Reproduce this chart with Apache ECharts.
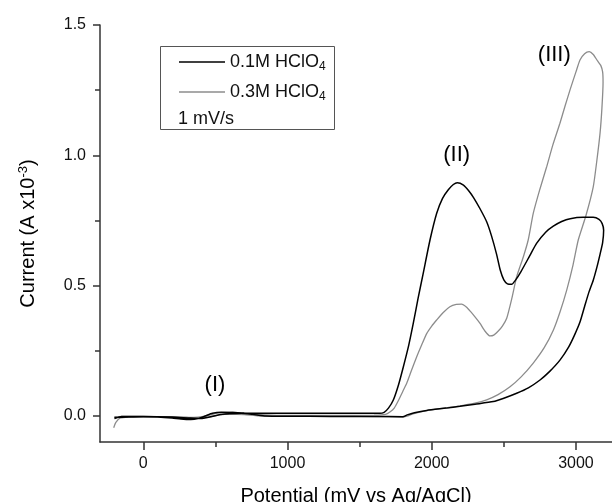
<!DOCTYPE html>
<html>
<head>
<meta charset="utf-8">
<script src="https://cdn.jsdelivr.net/npm/echarts@6/dist/echarts.min.js"></script>
<style>
html, body { margin: 0; padding: 0; background: #fff; }
#chart { width: 612px; height: 502px; }
</style>
</head>
<body>
<div id="chart"></div>
<script>
// CV curves, [potential mV, current A x10^-3]
var seriesNames = ['0.1M HClO4', '0.3M HClO4'];

var cv01 = [
	[-200,-0.006],[-100,-0.004],[0,-0.003],[100,-0.004],[200,-0.008],[260,-0.012],[330,-0.014],[380,-0.01],[430,0.0],[480,0.01],
	[540,0.014],[620,0.013],[700,0.011],[900,0.01],[1200,0.01],[1500,0.01],[1640,0.01],[1670,0.014],[1700,0.03],[1733,0.06],
	[1770,0.12],[1803,0.188],[1840,0.27],[1872,0.355],[1905,0.45],[1941,0.547],[1988,0.675],[2034,0.777],[2075,0.835],[2115,0.868],
	[2150,0.888],[2177,0.895],[2220,0.886],[2255,0.865],[2290,0.838],[2335,0.795],[2381,0.745],[2415,0.69],[2450,0.62],[2475,0.56],
	[2500,0.522],[2525,0.507],[2554,0.505],[2580,0.52],[2620,0.555],[2680,0.615],[2727,0.662],[2790,0.705],[2843,0.728],[2901,0.746],
	[2960,0.757],[3051,0.762],[3120,0.762],[3160,0.754],[3182,0.738],[3192,0.712],
	[3185,0.665],[3167,0.62],[3145,0.57],[3120,0.521],[3090,0.475],[3060,0.42],[3028,0.36],[2990,0.31],[2950,0.265],[2889,0.214],
	[2820,0.172],[2751,0.138],[2670,0.108],[2589,0.087],[2500,0.068],[2427,0.055],[2300,0.045],[2196,0.037],[2100,0.03],[1965,0.021],
	[1880,0.012],[1830,0.004],[1800,-0.003],[1600,-0.002],[1300,-0.002],[1000,-0.001],[850,0.0],[760,0.006],[680,0.01],[600,0.008],
	[520,0.004],[460,-0.004],[400,-0.01],[320,-0.008],[200,-0.004],[0,-0.002],[-150,-0.002],[-200,-0.01]
];

var cv03 = [
	[-205,-0.045],[-190,-0.025],[-160,-0.008],[-100,-0.004],[0,-0.003],[200,-0.004],[300,-0.006],[380,-0.005],[450,0.002],[530,0.013],
	[620,0.015],[700,0.01],[850,0.004],[1000,0.002],[1300,0.002],[1600,0.003],[1680,0.006],[1710,0.015],[1740,0.03],[1770,0.06],
	[1800,0.095],[1826,0.124],[1860,0.175],[1896,0.227],[1930,0.272],[1965,0.316],[2000,0.345],[2034,0.368],[2080,0.397],[2126,0.419],
	[2170,0.428],[2207,0.429],[2240,0.418],[2270,0.4],[2300,0.38],[2335,0.355],[2370,0.325],[2404,0.307],[2430,0.31],[2460,0.325],
	[2490,0.345],[2520,0.375],[2555,0.45],[2589,0.534],[2635,0.61],[2669,0.675],[2704,0.777],[2750,0.87],[2797,0.956],[2840,1.04],
	[2889,1.123],[2925,1.19],[2959,1.251],[3000,1.32],[3028,1.366],[3060,1.39],[3092,1.398],[3120,1.387],[3150,1.362],[3172,1.345],
	[3185,1.32],[3188,1.28],
	[3180,1.18],[3167,1.084],[3145,0.98],[3120,0.879],[3070,0.77],[3016,0.675],[2980,0.58],[2936,0.483],[2890,0.4],[2843,0.329],
	[2780,0.262],[2704,0.203],[2620,0.15],[2543,0.112],[2460,0.082],[2381,0.062],[2300,0.049],[2200,0.039],[2100,0.031],[1965,0.02],
	[1870,0.008],[1835,0.0],[1800,-0.004],[1500,-0.002],[1200,-0.002],[1000,-0.001],[800,0.0],[700,0.005],[600,0.007],[520,0.003],
	[450,-0.005],[380,-0.008],[300,-0.005],[150,-0.003],[0,-0.002],[-150,-0.002],[-200,-0.004]
];

var xTicks = [0, 1000, 2000, 3000];
var xMinor = [500, 1500, 2500];
var yTicks = [0, 0.5, 1, 1.5];
var yMinor = [0.25, 0.75, 1.25];

// peak labels and where they sit (data coords)
var peakLabels = ['(I)', '(II)', '(III)'];
var peakPos = [[497, 0.118], [2173, 1.0], [2850, 1.385]];

var FONT = '"Liberation Sans", Arial, sans-serif';
var AXC = '#333';

var chart = echarts.init(document.getElementById('chart'));

// second axis only for the short minor ticks
function minorAxis(pos, min, max, vals) {
	return {
		type: 'value', position: pos, min: min, max: max,
		axisLine: { show: false, onZero: false },
		axisTick: { show: true, customValues: vals, length: 5, lineStyle: { color: AXC, width: 1.5 } },
		axisLabel: { show: false },
		splitLine: { show: false }
	};
}

var xMain = {
	type: 'value', position: 'bottom', min: -300, max: 3250,
	name: 'Potential (mV vs Ag/AgCl)',
	nameLocation: 'middle', nameGap: 44,
	nameTextStyle: { fontSize: 20, fontFamily: FONT, color: '#000' },
	axisLine: { onZero: false, lineStyle: { color: AXC, width: 1.5 } },
	axisTick: { customValues: xTicks, length: 8, lineStyle: { color: AXC, width: 1.5 } },
	axisLabel: {
		customValues: xTicks, fontSize: 16, fontFamily: FONT, color: '#111', margin: 14,
		formatter: function (v) { return String(v); }
	},
	splitLine: { show: false }
};

var yMain = {
	type: 'value', position: 'left', min: -0.1, max: 1.5,
	name: '{a|Current (A x10}{b|-3}{a|)}',
	nameLocation: 'middle', nameGap: 60, nameRotate: 90,
	nameTextStyle: {
		fontSize: 20, fontFamily: FONT, color: '#000',
		rich: {
			a: { fontSize: 20, fontFamily: FONT, color: '#000' },
			b: { fontSize: 13, fontFamily: FONT, color: '#000', padding: [0, 0, 10, 0] }
		}
	},
	axisLine: { onZero: false, lineStyle: { color: AXC, width: 1.5 } },
	axisTick: { customValues: yTicks, length: 7, lineStyle: { color: AXC, width: 1.5 } },
	axisLabel: {
		customValues: yTicks, fontSize: 16, fontFamily: FONT, color: '#111', margin: 14,
		formatter: function (v) { return v.toFixed(1); }
	},
	splitLine: { show: false }
};

chart.setOption({
	animation: false,
	backgroundColor: '#fff',
	grid: { left: 100, top: 25, right: 0, bottom: 60, outerBoundsMode: 'none' },
	xAxis: [xMain, minorAxis('bottom', -300, 3250, xMinor)],
	yAxis: [yMain, minorAxis('left', -0.1, 1.5, yMinor)],
	legend: {
		data: seriesNames,
		orient: 'vertical',
		left: 174, top: 48,
		icon: 'rect',
		itemWidth: 46, itemHeight: 1.5, itemGap: 10,
		formatter: function (n) { return '{t|' + n.slice(0, -1) + '}{s|' + n.slice(-1) + '}'; },
		textStyle: {
			rich: {
				t: { fontSize: 18, fontFamily: FONT, color: '#111' },
				s: { fontSize: 12, fontFamily: FONT, color: '#111', padding: [10, 0, 0, 0] }
			}
		}
	},
	graphic: [
		{ id: 'box', type: 'rect', left: 158, top: 44, shape: { width: 174, height: 83 },
			style: { fill: 'none', stroke: '#555', lineWidth: 1 } },
		{ id: 'rate', type: 'text', left: 178, top: 110,
			style: { text: '1 mV/s', fontSize: 18, fontFamily: FONT, fill: '#111' } }
	],
	series: [
		{ name: seriesNames[0], type: 'line', data: cv01, symbol: 'none', smooth: 0.2, z: 3,
			lineStyle: { color: '#000', width: 1.5 }, itemStyle: { color: '#000' } },
		{ name: seriesNames[1], type: 'line', data: cv03, symbol: 'none', smooth: 0.2, z: 2,
			lineStyle: { color: '#8c8c8c', width: 1.3 }, itemStyle: { color: '#8c8c8c' } }
	]
});

// peak labels placed through the axes
var labels = peakLabels.map(function (t, i) {
	var p = chart.convertToPixel({ xAxisIndex: 0, yAxisIndex: 0 }, peakPos[i]);
	return {
		id: 'peak' + i, type: 'text', x: p[0], y: p[1],
		style: { text: t, fontSize: 22, fontFamily: FONT, fill: '#000', align: 'center', verticalAlign: 'middle' }
	};
});
chart.setOption({ graphic: labels });
</script>
</body>
</html>
